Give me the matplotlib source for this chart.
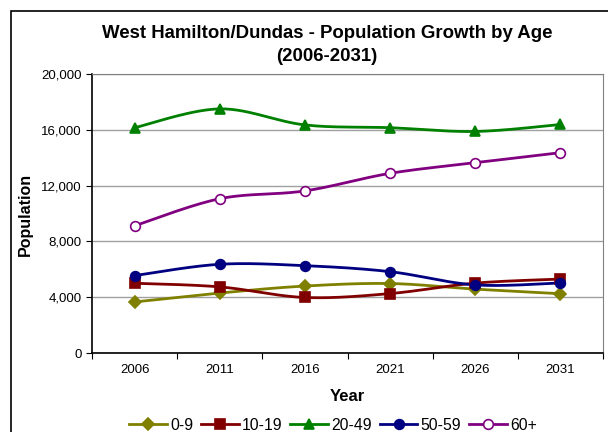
import numpy as np
import matplotlib
matplotlib.use("Agg")
import matplotlib.pyplot as plt
from matplotlib.patches import Rectangle

plt.rcParams['font.family'] = ['Liberation Sans', 'DejaVu Sans']

years = ['2006', '2011', '2016', '2021', '2026', '2031']
age_0_9 = [3660, 4300, 4800, 4980, 4580, 4250]
age_10_19 = [5000, 4740, 3980, 4260, 5010, 5300]
age_20_49 = [16150, 17500, 16350, 16150, 15880, 16380]
age_50_59 = [5550, 6360, 6260, 5830, 4880, 5020]
age_60_plus = [9120, 11060, 11620, 12880, 13640, 14360]

series = [
    ('0-9', age_0_9, '#808000', 'D', '#808000', 6.5),
    ('10-19', age_10_19, '#800000', 's', '#800000', 6.5),
    ('20-49', age_20_49, '#008000', '^', '#008000', 7.5),
    ('50-59', age_50_59, '#000080', 'o', '#000080', 7),
    ('60+', age_60_plus, '#800080', 'o', 'white', 7),
]


def smooth(x, y, n=30):
    # Excel-style smoothed line (Bezier with Catmull-Rom control points)
    x = np.asarray(x, float)
    y = np.asarray(y, float)
    xs, ys = [x[0]], [y[0]]
    t = np.linspace(0, 1, n)[1:]
    for i in range(len(x) - 1):
        i0 = max(i - 1, 0)
        i3 = min(i + 2, len(x) - 1)
        p0 = np.array([x[i], y[i]])
        p3 = np.array([x[i + 1], y[i + 1]])
        p1 = p0 + (p3 - np.array([x[i0], y[i0]])) / 6
        p2 = p3 - (np.array([x[i3], y[i3]]) - p0) / 6
        b = ((1 - t) ** 3)[:, None] * p0 + (3 * (1 - t) ** 2 * t)[:, None] * p1 \
            + (3 * (1 - t) * t ** 2)[:, None] * p2 + (t ** 3)[:, None] * p3
        xs.extend(b[:, 0])
        ys.extend(b[:, 1])
    return np.array(xs), np.array(ys)


fig = plt.figure(figsize=(6.08, 4.32), dpi=100)
W, H = 608, 432
ax = fig.add_axes([92 / W, 1 - 353 / H, (603 - 92) / W, (353 - 74) / H])

# chart border (cropped on right and bottom)
fig.patches.append(Rectangle((11 / W, -0.1), 1.2, 1 - 11 / H + 0.1,
                             transform=fig.transFigure, fill=False,
                             edgecolor='black', linewidth=1.2))

x = np.arange(len(years)) + 0.5
handles = []
for name, vals, col, mk, face, ms in series:
    sx, sy = smooth(x, vals)
    ax.plot(sx, sy, color=col, linewidth=2.0, zorder=3)
    ax.plot(x, vals, linestyle='none', marker=mk, markersize=ms,
            markerfacecolor=face, markeredgecolor=col, markeredgewidth=1.2, zorder=4)
    h, = ax.plot([], [], color=col, linewidth=2.0, marker=mk, markersize=ms,
                 markerfacecolor=face, markeredgecolor=col, markeredgewidth=1.2)
    handles.append((h, name))

ax.set_xlim(0, len(years))
ax.set_ylim(0, 20000)
ax.set_yticks(np.arange(0, 20001, 4000))
ax.set_yticklabels([f'{v:,}' for v in range(0, 20001, 4000)], fontsize=9.5)
ax.set_xticks(np.arange(0, len(years) + 1))
ax.set_xticklabels([])
ax.set_xticks(x, minor=True)
ax.set_xticklabels(years, minor=True, fontsize=9.5)
ax.tick_params(axis='x', which='minor', length=0, pad=8)
ax.tick_params(axis='x', which='major', length=4, direction='out', color='black')
ax.tick_params(axis='y', length=4, direction='out')
ax.grid(axis='y', color='#a0a0a0', linewidth=1)
ax.set_axisbelow(True)
for s in ['top', 'right']:
    ax.spines[s].set_color('#808080')
for s in ['left', 'bottom']:
    ax.spines[s].set_color('black')
    ax.spines[s].set_linewidth(1.2)

ax.set_xlabel('Year', fontsize=12, fontweight='bold', labelpad=9)
ax.set_ylabel('Population', fontsize=11.5, fontweight='bold')
ax.yaxis.set_label_coords(33 / W, 1 - 214 / H, transform=fig.transFigure)

fig.text(327 / W, 1 - 45 / H, 'West Hamilton/Dundas - Population Growth by Age\n(2006-2031)',
         ha='center', va='center', fontsize=13.4, fontweight='bold', linespacing=1.5)

fig.legend([h for h, _ in handles], [n for _, n in handles], loc='center',
           bbox_to_anchor=(333 / W, 1 - 425 / H), ncol=5, frameon=False,
           fontsize=11.3, handlelength=2.4, handletextpad=0.2, columnspacing=0.5)

fig.savefig('out.png', dpi=100)
